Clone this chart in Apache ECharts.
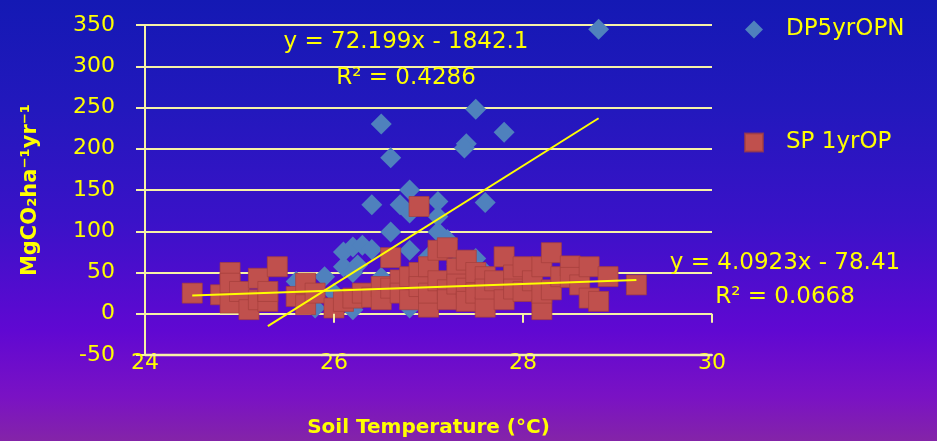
<!DOCTYPE html>
<html>
<head>
<meta charset="utf-8">
<script src="https://cdn.jsdelivr.net/npm/echarts@6/dist/echarts.min.js"></script>
<style>
html,body{margin:0;padding:0;}
#c{width:937px;height:441px;background:linear-gradient(to bottom,#1419b4 0%,#2318bd 25%,#3a12c8 50%,#6008d2 75%,#7a12c4 90%,#8424a8 100%);}
</style>
</head>
<body>
<div id="c"></div>
<script>
// Soil temperature (°C) vs MgCO2 ha-1 yr-1
const seriesNames = ['DP5yrOPN', 'SP 1yrOP'];
const xTicks = [24, 26, 28, 30];
const yTicks = [-50, 0, 50, 100, 150, 200, 250, 300, 350];

const dp5yrOPN = [
  [28.8,345],[27.5,248],[26.5,230],[27.8,220],[27.4,206],[27.38,201],[26.6,189],
  [26.8,150],[26.4,132],[26.7,132],[26.8,122],[27.1,136],[27.1,118],[27.6,135],
  [26.6,99],[27.1,99],[26.8,77],[27.0,69],[27.2,90],[26.1,75],[26.2,81],[26.3,83],
  [26.4,78],[26.1,57],[26.25,59],[26.2,50],[26.5,44],[25.9,45],[25.6,39],[25.8,7],
  [26.2,5],[26.8,7],[27.5,67],[27.3,60],[26.0,25],[26.6,30],[26.9,20],[27.2,40],[27.6,50]
];

const sp1yrOP = [
  [24.5,25],[24.8,23],[24.9,50],[24.9,37],[24.9,13],[25.0,27],[25.1,5],[25.2,43],
  [25.2,17],[25.3,15],[25.3,27],[25.4,57],[25.6,21],[25.7,37],[25.7,11],[25.8,25],
  [26.0,7],[26.1,15],[26.2,19],[26.3,25],[26.4,20],[26.5,33],[26.5,17],[26.6,31],
  [26.6,68],[26.7,41],[26.7,25],[26.8,17],[26.8,45],[26.9,130],[26.9,50],[26.9,33],
  [27.0,57],[27.0,8],[27.0,25],[27.1,77],[27.1,40],[27.2,80],[27.2,29],[27.2,17],
  [27.3,55],[27.3,36],[27.4,65],[27.4,31],[27.4,15],[27.5,50],[27.5,25],[27.6,45],
  [27.6,8],[27.6,30],[27.7,40],[27.8,69],[27.8,17],[27.9,47],[27.9,30],[28.0,57],
  [28.0,27],[28.1,40],[28.2,57],[28.2,5],[28.2,25],[28.3,74],[28.3,29],[28.4,45],
  [28.5,58],[28.5,44],[28.6,35],[28.7,57],[28.7,19],[28.8,15],[28.9,45],[29.2,35]
];

// trendline endpoints
const trendDP = [[25.3,-15],[28.8,237]];
const trendSP = [[24.5,22],[29.2,41]];

const eqDP = ['y = 72.199x - 1842.1', 'R² = 0.4286'];
const eqSP = ['y = 4.0923x - 78.41', 'R² = 0.0668'];

const FONT = '"DejaVu Sans", sans-serif';
const YEL = '#ffff00';
const GRID = '#f6f2a6';

// tick marks hanging below the zero line (Excel axis crossing at y = 0)
const zeroTickDepth = 11;
const zeroTicks = xTicks.slice(1).map(function (x) {
  return [{coord:[x, 0]}, {coord:[x, -zeroTickDepth]}];
});
// bottom edge of the plot, at the axis minimum, across the full x range
const bottomEdge = [[xTicks[0], yTicks[0]], [xTicks[xTicks.length-1], yTicks[0]]];

const chart = echarts.init(document.getElementById('c'), null, {renderer:'canvas'});
chart.setOption({
  backgroundColor: 'transparent',
  animation: false,
  grid: {left:145, right:225, top:25, bottom:86, containLabel:false, outerBoundsMode:'none'},
  legend: {
    orient:'vertical', left:744, top:18, padding:0, itemGap:90,
    itemWidth:18, itemHeight:18,
    data:[{name:seriesNames[0], icon:'diamond'},{name:seriesNames[1], icon:'rect'}],
    textStyle:{color:YEL, fontSize:23, fontFamily:FONT, padding:[0,0,0,18], lineHeight:18}
  },
  xAxis: {
    type:'value', min:xTicks[0], max:xTicks[xTicks.length-1], interval:2,
    position:'bottom',
    axisLine:{show:true, onZero:false, lineStyle:{color:GRID, width:2}},
    axisTick:{show:false},
    splitLine:{show:false},
    axisLabel:{color:YEL, fontSize:22, fontFamily:FONT, margin:-3},
    name:'Soil Temperature (°C)', nameLocation:'middle', nameGap:63,
    nameTextStyle:{color:YEL, fontSize:20, fontWeight:'bold', fontFamily:FONT}
  },
  yAxis: {
    type:'value', min:yTicks[0], max:yTicks[yTicks.length-1], interval:50,
    axisLine:{show:true, onZero:false, lineStyle:{color:GRID, width:2}},
    axisTick:{show:true, length:9, lineStyle:{color:GRID, width:2}},
    splitLine:{show:true, lineStyle:{color:GRID, width:2}},
    axisLabel:{color:YEL, fontSize:22, fontFamily:FONT, margin:30},
    name:'MgCO₂ha⁻¹yr⁻¹', nameLocation:'middle', nameGap:104, nameRotate:90,
    nameTextStyle:{color:YEL, fontSize:21, fontWeight:'bold', fontFamily:FONT}
  },
  series: [
    {name:'bottomEdge', type:'line', data:bottomEdge, symbol:'none', showSymbol:false,
     clip:false, silent:true, lineStyle:{color:GRID, width:2.5}, z:1},
    {name:seriesNames[0], type:'scatter', data:dp5yrOPN, symbol:'diamond', symbolSize:21,
     itemStyle:{color:'#4f81bd', opacity:1}, z:2},
    {name:seriesNames[1], type:'scatter', data:sp1yrOP, symbol:'rect', symbolSize:20,
     itemStyle:{color:'#c0504d', borderColor:'rgba(165,62,60,0.7)', borderWidth:1, opacity:1}, z:3},
    {name:'trendDP', type:'line', data:trendDP, showSymbol:false, symbol:'none',
     lineStyle:{color:YEL, width:2}, z:4},
    {name:'trendSP', type:'line', data:trendSP, showSymbol:false, symbol:'none',
     lineStyle:{color:YEL, width:2}, z:4,
     markLine:{silent:true, symbol:'none', label:{show:false}, animation:false,
       lineStyle:{color:GRID, width:2, type:'solid'},
       data: zeroTicks}}
  ],
  graphic: [
    {type:'text', x:406, y:42, z:10, style:{text:eqDP[0], fill:YEL, font:'23px '+FONT, align:'center', verticalAlign:'middle', textAlign:'center', textVerticalAlign:'middle'}},
    {type:'text', x:406, y:78, z:10, style:{text:eqDP[1], fill:YEL, font:'23px '+FONT, align:'center', verticalAlign:'middle', textAlign:'center', textVerticalAlign:'middle'}},
    {type:'text', x:785, y:263, z:10, style:{text:eqSP[0], fill:YEL, font:'23px '+FONT, align:'center', verticalAlign:'middle', textAlign:'center', textVerticalAlign:'middle'}},
    {type:'text', x:785, y:297, z:10, style:{text:eqSP[1], fill:YEL, font:'23px '+FONT, align:'center', verticalAlign:'middle', textAlign:'center', textVerticalAlign:'middle'}}
  ]
});
</script>
</body>
</html>
